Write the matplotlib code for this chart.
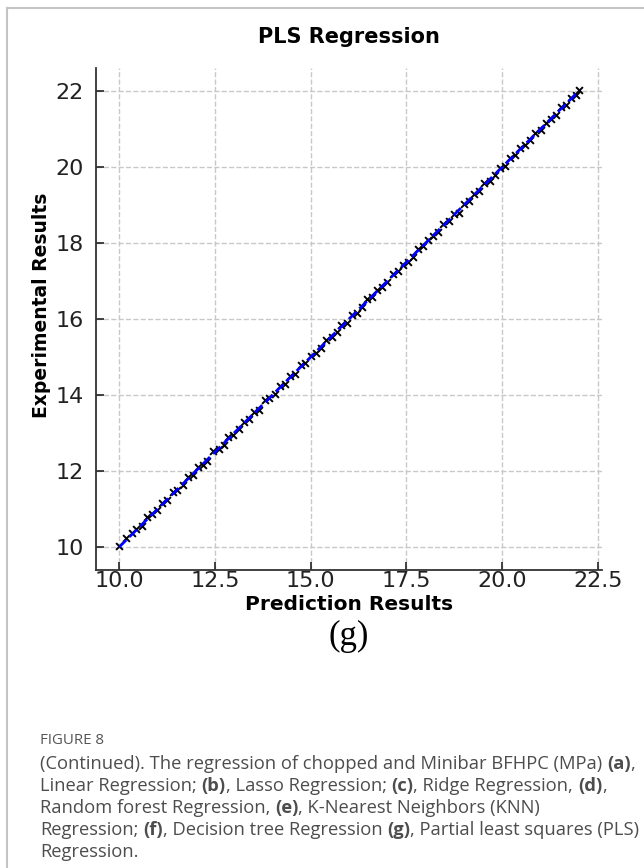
import matplotlib
matplotlib.use("Agg")
from matplotlib import pyplot as plt
from matplotlib.lines import Line2D

# predicted vs. measured strength for the PLS model
pred = [10.00, 10.18, 10.33, 10.45, 10.60, 10.74, 10.86, 11.00, 11.12, 11.25,
        11.40, 11.52, 11.66, 11.80, 11.93, 12.05, 12.18, 12.30, 12.46, 12.60,
        12.73, 12.85, 12.98, 13.12, 13.26, 13.40, 13.52, 13.66, 13.80, 13.92,
        14.06, 14.20, 14.33, 14.47, 14.60, 14.74, 14.86, 15.00, 15.14, 15.27,
        15.40, 15.55, 15.68, 15.80, 15.94, 16.07, 16.20, 16.34, 16.47, 16.60,
        16.73, 16.86, 17.00, 17.14, 17.27, 17.40, 17.53, 17.66, 17.80, 17.93,
        18.06, 18.20, 18.33, 18.46, 18.60, 18.73, 18.88, 19.00, 19.13, 19.26,
        19.40, 19.53, 19.67, 19.80, 19.93, 20.06, 20.20, 20.33, 20.46, 20.60,
        20.73, 20.86, 21.00, 21.13, 21.27, 21.40, 21.53, 21.66, 21.80, 21.93,
        22.00]
expt = [10.02, 10.24, 10.38, 10.47, 10.56, 10.80, 10.88, 10.97, 11.15, 11.23,
        11.46, 11.50, 11.63, 11.84, 11.90, 12.10, 12.16, 12.27, 12.52, 12.58,
        12.70, 12.89, 12.95, 13.10, 13.30, 13.37, 13.55, 13.62, 13.86, 13.93,
        14.02, 14.24, 14.30, 14.50, 14.56, 14.78, 14.84, 15.03, 15.11, 15.25,
        15.44, 15.52, 15.66, 15.85, 15.90, 16.10, 16.17, 16.31, 16.52, 16.57,
        16.76, 16.83, 16.97, 17.18, 17.25, 17.43, 17.50, 17.62, 17.85, 17.91,
        18.09, 18.17, 18.30, 18.50, 18.57, 18.77, 18.80, 19.03, 19.10, 19.28,
        19.36, 19.57, 19.64, 19.78, 19.97, 20.03, 20.23, 20.30, 20.50, 20.57,
        20.70, 20.90, 20.96, 21.16, 21.25, 21.37, 21.57, 21.63, 21.82, 21.90,
        22.02]

xticks = [10.0, 12.5, 15.0, 17.5, 20.0, 22.5]
yticks = [10, 12, 14, 16, 18, 20, 22]

W, H = 644, 868
fig = plt.figure(figsize=(W / 100, H / 100), dpi=100)

# light page frame
frame_kw = dict(color="#c4c4c4", lw=1.5, transform=fig.transFigure)
fig.add_artist(Line2D([7 / W, 1.0], [1 - 8 / H, 1 - 8 / H], **frame_kw))
fig.add_artist(Line2D([7 / W, 7 / W], [1 - 8 / H, 0.0], **frame_kw))

ax = fig.add_axes([96 / W, 1 - 570 / H, 506 / W, 502 / H])
ax.scatter(pred, expt, marker="x", s=24, c="black", linewidths=1.4, zorder=3)
lims = [min(pred), max(pred)]
ax.plot(lims, lims, "b--", lw=2, zorder=4)

ax.set_xlim(9.4, 22.6)
ax.set_ylim(9.4, 22.6)
ax.set_xticks(xticks)
ax.set_yticks(yticks)
ax.set_xticklabels(["%.1f" % t for t in xticks])
ax.tick_params(direction="in", length=6, width=1.2, labelsize=16,
               colors="#222222")
ax.tick_params(axis="x", pad=1)
ax.tick_params(axis="y", pad=9)
ax.grid(True, ls="--", color="#c8c8c8", lw=1)
ax.spines["top"].set_visible(False)
ax.spines["right"].set_visible(False)
for s in ("left", "bottom"):
    ax.spines[s].set_color("#333333")
    ax.spines[s].set_linewidth(1.3)

fig.text(349 / W, 1 - 37 / H, "PLS Regression", ha="center", va="center",
         fontsize=15, fontweight="bold")
fig.text(349 / W, 1 - 604 / H, "Prediction Results", ha="center",
         va="center", fontsize=14.5, fontweight="bold")
fig.text(42 / W, 1 - 305 / H, "Experimental Results", ha="center",
         va="center", rotation=90, fontsize=13.5, fontweight="bold")
fig.text(349 / W, 1 - 636 / H, "(g)", ha="center", va="center",
         fontsize=25, family="Liberation Serif")

# caption with bold panel letters
cap_font = "Open Sans"
cap_size = 13.2
cap_col = "#4d4d4d"
fig.text(40 / W, 1 - 741 / H, "FIGURE 8", ha="left", va="center",
         fontsize=10.8, color="#555555", family=cap_font)

lines = [
    [("(Continued). The regression of chopped and Minibar BFHPC (MPa)", False),
     ("(a)", True), (",", False)],
    [("Linear Regression;", False), ("(b)", True), (", Lasso Regression;", False),
     ("(c)", True), (", Ridge Regression,", False), ("(d)", True), (",", False)],
    [("Random forest Regression,", False), ("(e)", True),
     (", K-Nearest Neighbors (KNN)", False)],
    [("Regression;", False), ("(f)", True), (", Decision tree Regression", False),
     ("(g)", True), (", Partial least squares (PLS)", False)],
    [("Regression.", False)],
]
line_y = [764, 786, 808, 830, 852]

renderer = fig.canvas.get_renderer()


def text_width(s, bold=False):
    t = fig.text(0, 0, s, fontsize=cap_size, family=cap_font,
                 fontweight="bold" if bold else "normal")
    w = t.get_window_extent(renderer).width
    t.remove()
    return w


space_w = text_width("a a") - text_width("aa")

for segs, yy in zip(lines, line_y):
    x = 40.0
    for i, (s, bold) in enumerate(segs):
        if i > 0 and not s.startswith(","):
            x += space_w
        t = fig.text(x / W, 1 - yy / H, s, ha="left", va="center",
                     fontsize=cap_size, family=cap_font, color=cap_col,
                     fontweight="bold" if bold else "normal")
        x += t.get_window_extent(renderer).width

fig.savefig("out.png", dpi=100)
